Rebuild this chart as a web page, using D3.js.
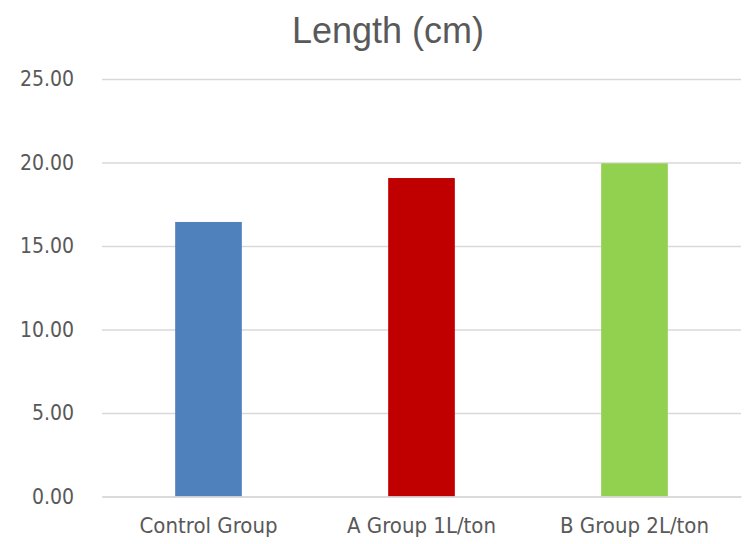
<!DOCTYPE html>
<html><head><meta charset="utf-8">
<script src="https://cdn.jsdelivr.net/npm/d3@7"></script>
<style>body{margin:0;background:#fff}</style>
</head><body>
<svg id="c" width="750" height="544"></svg>
<script>
const categories = ["Control Group", "A Group 1L/ton", "B Group 2L/ton"];
const values = [16.44, 19.07, 19.95];
const colors = ["#4F81BD", "#C00000", "#92D050"];
const yTicks = [0, 5, 10, 15, 20, 25];
const title = "Length (cm)";

const svg = d3.select("#c");
const m = {left: 102, right: 741, top: 79, bottom: 496.5};
const x = d3.scaleBand().domain(categories).range([m.left, m.right]).paddingInner(0.687).paddingOuter(0.3435);
const y = d3.scaleLinear().domain([0, 25]).range([m.bottom, m.top]);

const tickFont = "'Liberation Sans Narrow', 'Arial Narrow', 'DejaVu Sans Condensed', sans-serif";

const gy = svg.append("g").attr("transform", `translate(${m.left},0)`)
  .call(d3.axisLeft(y).tickValues(yTicks).tickSize(-(m.right - m.left)).tickFormat(d => d.toFixed(2)).tickPadding(28));
gy.select(".domain").remove();
gy.selectAll(".tick line").attr("stroke", "#D9D9D9").attr("stroke-width", 1.5);
gy.selectAll(".tick text").attr("fill", "#595959").style("font-family", tickFont).style("font-size", "21px");

svg.append("g").selectAll("rect").data(categories).join("rect")
  .attr("x", d => x(d)).attr("width", x.bandwidth())
  .attr("y", (d, i) => y(values[i])).attr("height", (d, i) => y(0) - y(values[i]))
  .attr("fill", (d, i) => colors[i]);

const gx = svg.append("g").attr("transform", `translate(0,${m.bottom})`)
  .call(d3.axisBottom(x).tickSize(0).tickPadding(21));
gx.select(".domain").attr("stroke", "#D9D9D9").attr("stroke-width", 1.5);
gx.selectAll(".tick text").attr("fill", "#595959").style("font-family", tickFont).style("font-size", "22px");

svg.append("text").attr("x", 388).attr("y", 43).attr("text-anchor", "middle")
  .attr("fill", "#595959").style("font-family", "'Liberation Sans', Arial, sans-serif").style("font-size", "36px")
  .text(title);
</script>
</body></html>
